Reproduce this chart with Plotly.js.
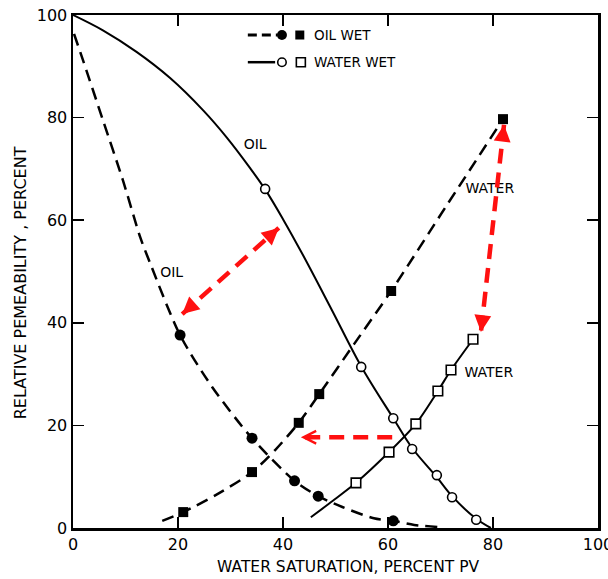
<!DOCTYPE html>
<html><head><meta charset="utf-8">
<script src="https://cdn.plot.ly/plotly-3.0.1.min.js"></script>
<style>body{margin:0;background:#fff}#chart{width:608px;height:579px}</style>
</head><body><div id="chart"></div>
<script>
// ---- Oil-wet rock (dashed curves, filled markers) ----
const owOilCurveX = [0.2, 1.9, 5.7, 9.5, 12.8, 14.7, 20.4, 26.5, 34.1, 42.2, 46.7, 51.3, 57.3, 61.0, 65.0, 69.5];
const owOilCurveY = [96.3, 91.2, 79.5, 67.8, 56.7, 51.6, 37.6, 27.5, 17.5, 9.2, 6.2, 4.1, 1.9, 1.4, 0.6, 0.2];
const owOilPtsX = [20.4, 34.1, 42.2, 46.7, 61.0];
const owOilPtsY = [37.6, 17.5, 9.2, 6.2, 1.4];

const owWaterCurveX = [17.0, 21.0, 27.5, 34.1, 38.5, 43.0, 46.9, 53.5, 60.6, 71.0, 81.9];
const owWaterCurveY = [1.4, 3.1, 6.6, 10.9, 15.2, 20.5, 26.1, 35.8, 46.2, 62.6, 79.7];
const owWaterPtsX = [21.0, 34.1, 43.0, 46.9, 60.6, 81.9];
const owWaterPtsY = [3.1, 10.9, 20.5, 26.1, 46.2, 79.7];

// ---- Water-wet rock (solid curves, open markers) ----
const wwOilCurveX = [0, 5.7, 12.1, 18.5, 24.8, 29.3, 33.7, 36.6, 40.0, 43.8, 49.3, 54.9, 61.0, 64.6, 69.3, 72.2, 76.8, 79.6];
const wwOilCurveY = [100, 97.0, 92.8, 87.7, 81.4, 76.1, 70.2, 66.0, 60.2, 53.2, 42.5, 31.5, 21.4, 15.6, 9.9, 6.2, 1.8, 0];
const wwOilPtsX = [36.6, 54.9, 61.0, 64.6, 69.3, 72.2, 76.8];
const wwOilPtsY = [66.1, 31.4, 21.4, 15.4, 10.3, 6.0, 1.6];

const wwWaterCurveX = [45.3, 49.5, 53.9, 60.2, 65.3, 69.5, 72.0, 76.2];
const wwWaterCurveY = [2.1, 5.3, 8.8, 14.8, 20.3, 26.7, 30.8, 36.8];
const wwWaterPtsX = [53.9, 60.2, 65.3, 69.5, 72.0, 76.2];
const wwWaterPtsY = [8.8, 14.8, 20.3, 26.7, 30.8, 36.8];

// ---- Curve labels ----
const labelText = ["OIL", "OIL", "WATER", "WATER"];
const labelX = [34.7, 18.8, 79.4, 79.2];
const labelY = [74.6, 49.7, 65.9, 30.2];

// ---- Red arrows (tip-to-tip) ----
const arrowOilX = [20.8, 39.2];   const arrowOilY = [41.7, 58.5];   // double headed
const arrowWatX = [82.1, 77.7];   const arrowWatY = [78.6, 38.2];   // double headed
const arrowShiftX = [60.8, 43.4]; const arrowShiftY = [17.7, 17.7]; // head at second point

// ---- Axis ticks ----
const tickVals = [0, 20, 40, 60, 80, 100];
const tickText = ["0", "20", "40", "60", "80", "100"];

const FONT = "DejaVu Sans, sans-serif";
const RED = "#ff1010";
const PXX = 525 / 100, PXY = 513 / 100; // approx px per data unit (plot area size / range)

const traces = [];
const dashBlack = {color: "#000", width: 2.5, dash: "12px,7px"};
const solidBlack = {color: "#000", width: 2};

traces.push({x: owOilCurveX, y: owOilCurveY, mode: "lines", line: Object.assign({shape: "spline", smoothing: 0.8}, dashBlack), hoverinfo: "skip"});
traces.push({x: owWaterCurveX, y: owWaterCurveY, mode: "lines", line: Object.assign({shape: "spline", smoothing: 0.8}, dashBlack), hoverinfo: "skip"});
traces.push({x: wwOilCurveX, y: wwOilCurveY, mode: "lines", line: Object.assign({shape: "spline", smoothing: 1.0}, solidBlack), hoverinfo: "skip"});
traces.push({x: wwWaterCurveX, y: wwWaterCurveY, mode: "lines", line: Object.assign({shape: "spline", smoothing: 0.8}, solidBlack), hoverinfo: "skip"});

traces.push({x: owOilPtsX, y: owOilPtsY, mode: "markers", marker: {symbol: "circle", size: 11, color: "#000"}});
traces.push({x: owWaterPtsX, y: owWaterPtsY, mode: "markers", marker: {symbol: "square", size: 10, color: "#000"}});
traces.push({x: wwOilPtsX, y: wwOilPtsY, mode: "markers", marker: {symbol: "circle", size: 9, color: "#fff", line: {color: "#000", width: 1.6}}});
traces.push({x: wwWaterPtsX, y: wwWaterPtsY, mode: "markers", marker: {symbol: "square", size: 9.5, color: "#fff", line: {color: "#000", width: 1.6}}});

traces.push({x: labelX, y: labelY, mode: "text", text: labelText, textposition: "middle center",
  textfont: {family: FONT, size: 14, color: "#000"}, hoverinfo: "skip"});

const redDash = {color: RED, width: 4.5, dash: "15px,9px"};
[[arrowOilX, arrowOilY], [arrowWatX, arrowWatY], [arrowShiftX, arrowShiftY]].forEach(function (a) {
  traces.push({x: a[0], y: a[1], mode: "lines", line: redDash, hoverinfo: "skip"});
});

// Legend drawn on an overlay axis spanning the plot area (0..1)
const legY1 = 0.961, legY2 = 0.908;
traces.push({x: [0.333, 0.389], y: [legY1, legY1], xaxis: "x2", yaxis: "y2", mode: "lines", line: {color: "#000", width: 3, dash: "9px,5px"}, hoverinfo: "skip"});
traces.push({x: [0.333, 0.385], y: [legY2, legY2], xaxis: "x2", yaxis: "y2", mode: "lines", line: {color: "#000", width: 2.5}, hoverinfo: "skip"});
traces.push({x: [0.398], y: [legY1], xaxis: "x2", yaxis: "y2", mode: "markers", marker: {symbol: "circle", size: 10, color: "#000"}});
traces.push({x: [0.432], y: [legY1], xaxis: "x2", yaxis: "y2", mode: "markers", marker: {symbol: "square", size: 9, color: "#000"}});
traces.push({x: [0.398], y: [legY2], xaxis: "x2", yaxis: "y2", mode: "markers", marker: {symbol: "circle", size: 8.5, color: "#fff", line: {color: "#000", width: 1.6}}});
traces.push({x: [0.434], y: [legY2], xaxis: "x2", yaxis: "y2", mode: "markers", marker: {symbol: "square", size: 9, color: "#fff", line: {color: "#000", width: 1.6}}});

function headAnn(tipX, tipY, fromX, fromY, head, size, len) {
  const dx = (fromX - tipX) * PXX, dy = -(fromY - tipY) * PXY;
  const n = Math.sqrt(dx * dx + dy * dy);
  return {x: tipX, y: tipY, xref: "x", yref: "y", ax: dx / n * len, ay: dy / n * len, text: "",
    showarrow: true, arrowhead: head, arrowsize: size, arrowwidth: 4.5, arrowcolor: RED, standoff: 0};
}

const annotations = [
  headAnn(arrowOilX[0], arrowOilY[0], arrowOilX[1], arrowOilY[1], 2, 0.75, 16),
  headAnn(arrowOilX[1], arrowOilY[1], arrowOilX[0], arrowOilY[0], 2, 0.75, 16),
  headAnn(arrowWatX[0], arrowWatY[0], arrowWatX[1], arrowWatY[1], 2, 0.75, 16),
  headAnn(arrowWatX[1], arrowWatY[1], arrowWatX[0], arrowWatY[0], 2, 0.75, 16),
  headAnn(arrowShiftX[1], arrowShiftY[1], arrowShiftX[0], arrowShiftY[0], 5, 0.55, 12),
  {xref: "x2", yref: "y2", x: 0.455, y: legY1, text: "OIL WET", showarrow: false, xanchor: "left", yanchor: "middle",
    font: {family: FONT, size: 13.5, color: "#000"}},
  {xref: "x2", yref: "y2", x: 0.455, y: legY2, text: "WATER WET", showarrow: false, xanchor: "left", yanchor: "middle",
    font: {family: FONT, size: 13.5, color: "#000"}},
  {xref: "paper", yref: "paper", x: 0.524, y: -0.076, text: "WATER SATURATION, PERCENT PV", showarrow: false,
    xanchor: "center", yanchor: "middle", font: {family: FONT, size: 15.5, color: "#000"}},
  {xref: "paper", yref: "paper", x: -0.1, y: 0.478, text: "RELATIVE PEMEABILITY , PERCENT", showarrow: false,
    xanchor: "center", yanchor: "middle", textangle: -90, font: {family: FONT, size: 16, color: "#000"}}
];

const axisCommon = {
  range: [0, 100], tickvals: tickVals, ticktext: tickText, ticks: "inside", ticklen: 11, tickwidth: 1.5,
  tickcolor: "#000", showline: true, linecolor: "#000", linewidth: 2.5, mirror: "ticks",
  showgrid: false, zeroline: false, tickfont: {family: FONT, size: 16, color: "#000"}, fixedrange: true,
  ticklabeloverflow: "allow"
};

const layout = {
  width: 608, height: 579,
  margin: {l: 73, r: 10, t: 15, b: 51},
  paper_bgcolor: "#fff", plot_bgcolor: "#fff",
  showlegend: false,
  xaxis: Object.assign({}, axisCommon),
  yaxis: Object.assign({}, axisCommon),
  xaxis2: {overlaying: "x", range: [0, 1], visible: false, fixedrange: true},
  yaxis2: {overlaying: "y", range: [0, 1], visible: false, fixedrange: true},
  annotations: annotations
};

Plotly.newPlot("chart", traces, layout, {staticPlot: true});
</script></body></html>
